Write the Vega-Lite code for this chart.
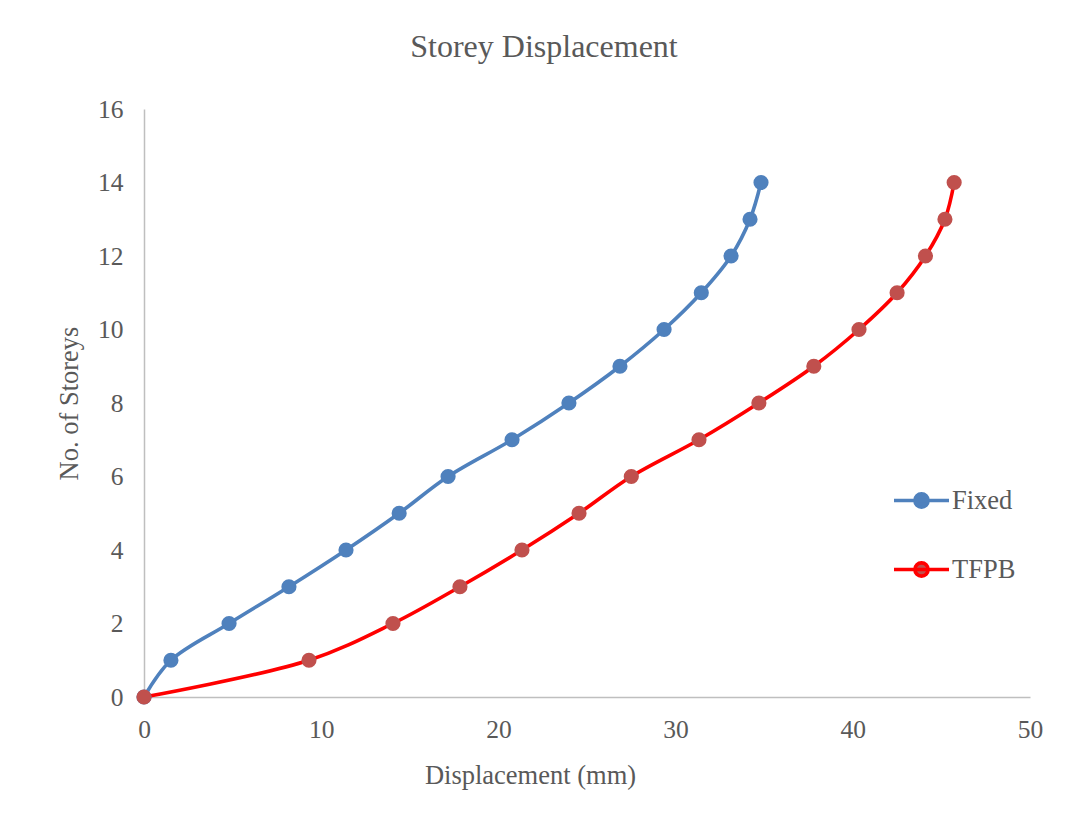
{
  "$schema": "https://vega.github.io/schema/vega-lite/v6.json",
  "width": 886,
  "height": 588,
  "autosize": "none",
  "padding": {"left": 144, "top": 109, "right": 42, "bottom": 141},
  "background": "white",
  "config": {
    "font": "Liberation Serif",
    "view": {"stroke": null},
    "axis": {
      "grid": false,
      "ticks": false,
      "domainColor": "#BFBFBF",
      "domainWidth": 1.5,
      "labelFont": "Liberation Serif",
      "labelFontSize": 25.5,
      "labelColor": "#595959",
      "labelFlush": false,
      "labelOverlap": false,
      "titleFont": "Liberation Serif",
      "titleFontSize": 26.5,
      "titleFontWeight": "normal",
      "titleColor": "#595959"
    }
  },
  "title": {
    "text": "Storey Displacement",
    "font": "Liberation Serif",
    "fontSize": 32,
    "fontWeight": "normal",
    "color": "#595959",
    "dx": -43,
    "offset": 33
  },
  "data": {
    "values": [
      {"series": "Fixed", "disp": 0, "storey": 0},
      {"series": "Fixed", "disp": 1.52, "storey": 1},
      {"series": "Fixed", "disp": 4.8, "storey": 2},
      {"series": "Fixed", "disp": 8.18, "storey": 3},
      {"series": "Fixed", "disp": 11.4, "storey": 4},
      {"series": "Fixed", "disp": 14.4, "storey": 5},
      {"series": "Fixed", "disp": 17.16, "storey": 6},
      {"series": "Fixed", "disp": 20.77, "storey": 7},
      {"series": "Fixed", "disp": 23.98, "storey": 8},
      {"series": "Fixed", "disp": 26.86, "storey": 9},
      {"series": "Fixed", "disp": 29.35, "storey": 10},
      {"series": "Fixed", "disp": 31.45, "storey": 11},
      {"series": "Fixed", "disp": 33.13, "storey": 12},
      {"series": "Fixed", "disp": 34.2, "storey": 13},
      {"series": "Fixed", "disp": 34.82, "storey": 14},
      {"series": "TFPB", "disp": 0, "storey": 0},
      {"series": "TFPB", "disp": 9.31, "storey": 1},
      {"series": "TFPB", "disp": 14.05, "storey": 2},
      {"series": "TFPB", "disp": 17.83, "storey": 3},
      {"series": "TFPB", "disp": 21.33, "storey": 4},
      {"series": "TFPB", "disp": 24.55, "storey": 5},
      {"series": "TFPB", "disp": 27.5, "storey": 6},
      {"series": "TFPB", "disp": 31.32, "storey": 7},
      {"series": "TFPB", "disp": 34.7, "storey": 8},
      {"series": "TFPB", "disp": 37.8, "storey": 9},
      {"series": "TFPB", "disp": 40.35, "storey": 10},
      {"series": "TFPB", "disp": 42.5, "storey": 11},
      {"series": "TFPB", "disp": 44.1, "storey": 12},
      {"series": "TFPB", "disp": 45.2, "storey": 13},
      {"series": "TFPB", "disp": 45.72, "storey": 14}
    ]
  },
  "encoding": {
    "x": {
      "field": "disp",
      "type": "quantitative",
      "scale": {"domain": [0, 50], "nice": false},
      "axis": {"values": [0, 10, 20, 30, 40, 50], "title": "Displacement (mm)", "labelPadding": 20, "titlePadding": 20, "titleX": 386}
    },
    "y": {
      "field": "storey",
      "type": "quantitative",
      "scale": {"domain": [0, 16], "nice": false},
      "axis": {"values": [0, 2, 4, 6, 8, 10, 12, 14, 16], "title": "No. of Storeys", "labelPadding": 21, "titlePadding": 14}
    }
  },
  "layer": [
    {
      "mark": {"type": "line", "interpolate": "catmull-rom", "strokeWidth": 3.6},
      "encoding": {
        "color": {
          "field": "series",
          "type": "nominal",
          "scale": {"domain": ["Fixed", "TFPB"], "range": ["#4F81BD", "#FF0000"]},
          "legend": {
            "title": null,
            "orient": "none",
            "legendX": 748,
            "legendY": 362,
            "padding": 0,
            "symbolType": "M-1,0H1M-0.24,0A0.24,0.24,0,1,0,0.24,0A0.24,0.24,0,1,0,-0.24,0Z",
            "symbolSize": 3025,
            "symbolStrokeWidth": 3.6,
            "labelFont": "Liberation Serif",
            "labelFontSize": 26.5,
            "labelColor": "#595959",
            "labelOffset": 1,
            "rowPadding": 25,
            "encode": {
              "symbols": {
                "update": {
                  "fill": {"scale": "fill", "field": "value"},
                  "stroke": {"scale": "color", "field": "value"}
                }
              }
            }
          }
        }
      }
    },
    {
      "mark": {"type": "circle", "size": 230, "opacity": 1},
      "encoding": {
        "fill": {
          "field": "series",
          "type": "nominal",
          "scale": {"domain": ["Fixed", "TFPB"], "range": ["#4F81BD", "#C0504D"]},
          "legend": null
        }
      }
    }
  ]
}
